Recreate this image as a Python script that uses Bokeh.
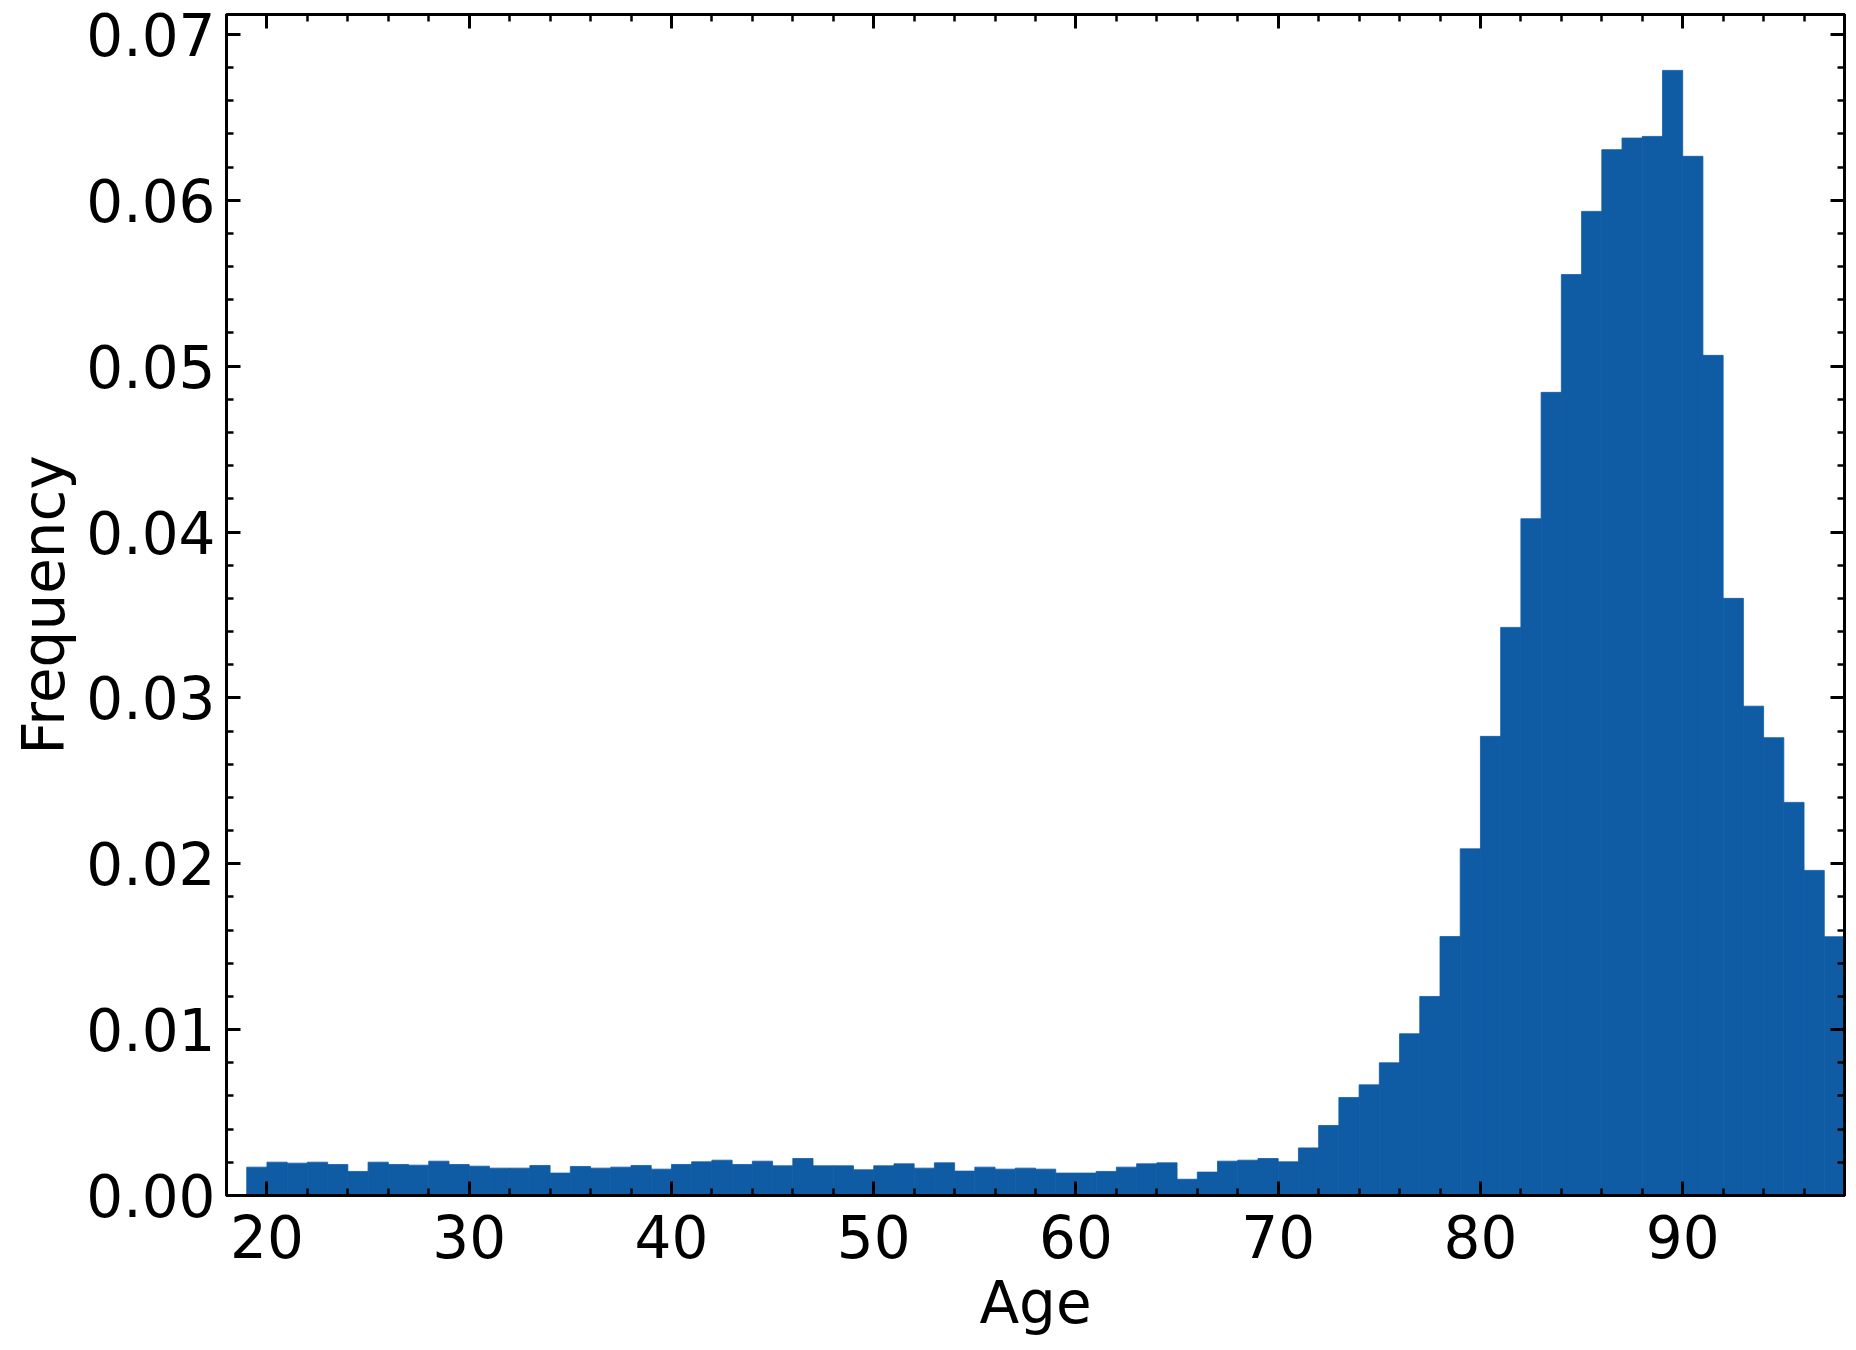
from bokeh.plotting import figure
from bokeh.models import (Range1d, LinearAxis, SingleIntervalTicker, NumeralTickFormatter,
                          ColumnDataSource, CustomJSTickFormatter)
from bokeh.embed import file_html
from bokeh.resources import INLINE

# Histogram bins (left edges, width 1 year) and frequencies
ages = list(range(19, 98))
freq = [
    0.00171, 0.00201, 0.00195, 0.00201, 0.00187, 0.00145, 0.00201, 0.00187, 0.00183, 0.00207,  # 19-28
    0.00187, 0.00177, 0.00165, 0.00165, 0.00181, 0.00135, 0.00175, 0.00165, 0.00171, 0.00181,  # 29-38
    0.00159, 0.00187, 0.00203, 0.00213, 0.00187, 0.00207, 0.00179, 0.00223, 0.00179, 0.00179,  # 39-48
    0.00155, 0.00179, 0.00191, 0.00165, 0.00197, 0.00147, 0.00171, 0.00159, 0.00165, 0.00159,  # 49-58
    0.00135, 0.00135, 0.00145, 0.00171, 0.00191, 0.00197, 0.00098, 0.00141, 0.00207, 0.00213,  # 59-68
    0.00223, 0.00203, 0.00287, 0.00422, 0.00591, 0.00667, 0.00800, 0.00975, 0.01200, 0.01561,  # 69-78
    0.02090, 0.02768, 0.03425, 0.04080, 0.04842, 0.05552, 0.05933, 0.06305, 0.06375, 0.06385,  # 79-88
    0.06783, 0.06265, 0.05065, 0.03600, 0.02950, 0.02760, 0.02370, 0.01960, 0.01560,           # 89-97
]
x_label = "Age"
y_label = "Frequency"

FONT = "DejaVu Sans"
TICK_FS = "58px"
LABEL_FS = "58px"
BAR = "#0f5ca5"

src = ColumnDataSource(dict(left=ages, right=[a + 1 for a in ages], top=freq))

p = figure(width=1856, height=1350, output_backend="svg", toolbar_location=None,
           x_range=Range1d(18, 98), y_range=Range1d(0, 0.0712),
           min_border_left=226, min_border_top=14, min_border_right=12, min_border_bottom=155)
p.grid.visible = False
p.background_fill_color = "white"
p.outline_line_color = "black"
p.outline_line_width = 3

p.quad(left="left", right="right", bottom=0, top="top", source=src,
       fill_color=BAR, line_color=BAR, line_width=0.8)

def style(ax):
    ax.axis_line_color = "black"
    ax.axis_line_width = 3
    ax.major_tick_line_color = "black"
    ax.major_tick_line_width = 3
    ax.minor_tick_line_color = "black"
    ax.minor_tick_line_width = 2.5
    ax.major_tick_in = 14
    ax.major_tick_out = 0
    ax.minor_tick_in = 7
    ax.minor_tick_out = 0
    ax.major_label_text_font = FONT
    ax.major_label_text_color = "black"
    ax.major_label_text_font_size = TICK_FS
    ax.axis_label_text_font = FONT
    ax.axis_label_text_font_style = "normal"
    ax.axis_label_text_color = "black"
    ax.axis_label_text_font_size = LABEL_FS

xa = p.xaxis[0]
xa.ticker = SingleIntervalTicker(interval=10, num_minor_ticks=5)
xa.axis_label = x_label
style(xa)
xa.major_label_standoff = 19
xa.axis_label_standoff = 8

ya = p.yaxis[0]
ya.ticker = SingleIntervalTicker(interval=0.01, num_minor_ticks=5)
ya.formatter = NumeralTickFormatter(format="0.00")
ya.axis_label = y_label
style(ya)
ya.major_label_standoff = 11
ya.axis_label_standoff = 5

blank = CustomJSTickFormatter(code="return '';")
top_ax = LinearAxis(ticker=SingleIntervalTicker(interval=10, num_minor_ticks=5), formatter=blank)
style(top_ax)
top_ax.major_label_text_font_size = "8px"
top_ax.major_label_standoff = 0
p.add_layout(top_ax, "above")
right_ax = LinearAxis(ticker=SingleIntervalTicker(interval=0.01, num_minor_ticks=5), formatter=blank)
style(right_ax)
right_ax.major_label_text_font_size = "8px"
right_ax.major_label_standoff = 0
p.add_layout(right_ax, "right")

open("out.html", "w").write(file_html(p, INLINE))
